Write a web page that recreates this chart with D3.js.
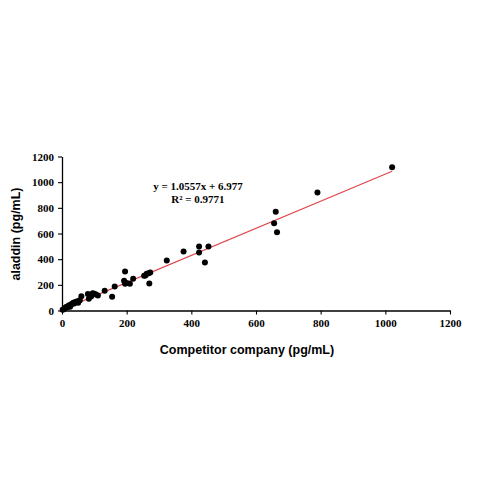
<!DOCTYPE html>
<html>
<head>
<meta charset="utf-8">
<script src="https://cdn.jsdelivr.net/npm/d3@7"></script>
<style>
  html, body { margin: 0; padding: 0; background: #fff; }
</style>
</head>
<body>
<svg id="chart" width="479" height="479"></svg>
<script>
// values
const competitor = [2, 5, 8, 10, 12, 15, 18, 20, 22, 25, 28, 30, 35, 38, 40, 45, 50, 52, 55, 60,
  80, 83, 90, 95, 100, 105, 111, 132, 155, 163, 192, 195, 195, 200, 210, 220,
  254, 258, 262, 268, 273, 270, 324, 376, 424, 424, 442, 453, 656, 661, 665, 790, 1021];
const aladdin = [5, 10, 15, 20, 25, 30, 28, 35, 40, 30, 45, 50, 60, 55, 65, 70, 60, 75, 80, 112,
  128, 92, 110, 135, 130, 125, 117, 153, 108, 187, 231, 304, 208, 215, 208, 247,
  270, 272, 286, 290, 296, 210, 389, 460, 499, 452, 374, 499, 680, 769, 610, 919, 1117];
const xTicks = [0, 200, 400, 600, 800, 1000, 1200];
const yTicks = [0, 200, 400, 600, 800, 1000, 1200];
const slope = 1.0557;
const intercept = 6.977;
const eqText = "y = 1.0557x + 6.977";
const r2Text = "R² = 0.9771";

const svg = d3.select("#chart");

const x = d3.scaleLinear().domain([0, 1200]).range([62, 450]);
const y = d3.scaleLinear().domain([0, 1200]).range([310.5, 156.5]);

// axes
const xAxis = svg.append("g")
  .attr("transform", `translate(0,${y(0)})`)
  .call(d3.axisBottom(x).tickValues(xTicks).tickFormat(d3.format("d")).tickSize(4).tickSizeOuter(0));
const yAxis = svg.append("g")
  .attr("transform", `translate(${x(0)},0)`)
  .call(d3.axisLeft(y).tickValues(yTicks).tickFormat(d3.format("d")).tickSize(4).tickSizeOuter(0));

[xAxis, yAxis].forEach(g => {
  g.select(".domain").attr("stroke", "#000").attr("stroke-width", 1.3);
  g.selectAll(".tick line").attr("stroke", "#000").attr("stroke-width", 1.1);
  g.selectAll(".tick text")
    .attr("fill", "#000")
    .attr("font-family", "Liberation Serif, Times New Roman, serif")
    .attr("font-weight", "bold")
    .attr("font-size", 11);
});
xAxis.selectAll(".tick text").attr("dy", "0.9em");
yAxis.selectAll(".tick text").attr("dx", "-1px");

// trend line
const xMax = d3.max(competitor);
svg.append("line")
  .attr("x1", x(0)).attr("y1", y(intercept))
  .attr("x2", x(xMax)).attr("y2", y(slope * xMax + intercept))
  .attr("stroke", "#e0474c")
  .attr("stroke-width", 1.2);

// points
svg.append("g")
  .selectAll("circle")
  .data(competitor.map((d, i) => [d, aladdin[i]]))
  .enter()
  .append("circle")
  .attr("cx", d => x(d[0]))
  .attr("cy", d => y(d[1]))
  .attr("r", 3)
  .attr("fill", "#000");

// equation
svg.append("text")
  .attr("x", 198).attr("y", 190)
  .attr("text-anchor", "middle")
  .attr("font-family", "Liberation Serif, Times New Roman, serif")
  .attr("font-weight", "bold")
  .attr("font-size", 11)
  .text(eqText);
svg.append("text")
  .attr("x", 198).attr("y", 203)
  .attr("text-anchor", "middle")
  .attr("font-family", "Liberation Serif, Times New Roman, serif")
  .attr("font-weight", "bold")
  .attr("font-size", 11)
  .text(r2Text);

// axis titles
svg.append("text")
  .attr("x", 247).attr("y", 354)
  .attr("text-anchor", "middle")
  .attr("font-family", "Liberation Sans, Arial, sans-serif")
  .attr("font-weight", "bold")
  .attr("font-size", 12.5)
  .text("Competitor company (pg/mL)");
svg.append("text")
  .attr("transform", "translate(20,234) rotate(-90)")
  .attr("text-anchor", "middle")
  .attr("font-family", "Liberation Sans, Arial, sans-serif")
  .attr("font-weight", "bold")
  .attr("font-size", 12.5)
  .text("aladdin (pg/mL)");
</script>
</body>
</html>
